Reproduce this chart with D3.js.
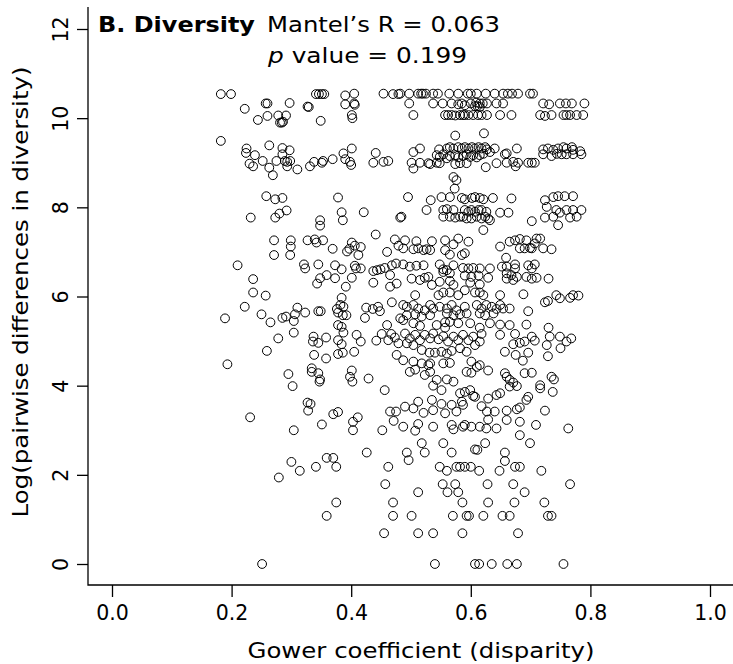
<!DOCTYPE html>
<html><head><meta charset="utf-8">
<script src="https://cdn.jsdelivr.net/npm/d3@7"></script>
<style>body{margin:0;background:#fff} svg{display:block} text{font-family:"DejaVu Sans",Verdana,sans-serif;fill:#000}</style>
</head><body><svg id="c" width="733" height="664"></svg>
<script>
// ---- data: [Gower coefficient, log pairwise difference in diversity] ----
const xTicks = [0, 0.2, 0.4, 0.6, 0.8, 1.0];
const yTicks = [0, 2, 4, 6, 8, 10, 12];

const pointsTopLeft = [
 [.182,10.54],[.199,10.54],[.222,10.21],[.244,9.96],[.260,10.05],[.257,10.33],[.260,10.33],[.278,10.06],[.291,10.06],
 [.281,9.90],[.284,9.90],[.286,9.92],[.297,10.34],[.327,10.26],[.329,10.25],[.341,10.54],[.346,10.54],[.351,10.54],
 [.355,10.54],[.349,9.94],[.390,10.51],[.405,10.55],[.390,10.31],[.405,10.33],[.406,10.30],[.401,10.07],[.402,10.00],
 [.454,10.55],[.470,10.54],[.479,10.54],[.182,9.49]
];
const pointsTopRight = [
 [.482,10.55],[.497,10.55],[.512,10.55],[.517,10.55],[.520,10.55],[.525,10.55],[.537,10.55],[.545,10.55],[.564,10.55],
 [.579,10.55],[.595,10.55],[.600,10.55],[.610,10.55],[.625,10.55],[.640,10.55],[.654,10.55],[.662,10.55],[.669,10.55],
 [.679,10.55],[.699,10.55],[.704,10.55],
 [.497,10.33],[.537,10.33],[.553,10.33],[.568,10.33],[.579,10.31],[.585,10.33],[.600,10.33],[.609,10.35],[.611,10.27],
 [.615,10.33],[.620,10.33],[.627,10.33],[.643,10.33],[.654,10.33],[.721,10.33],[.731,10.31],[.749,10.33],[.759,10.33],
 [.769,10.33],[.790,10.33],[.607,10.27],[.615,10.25],[.590,10.29],
 [.504,10.07],[.557,10.07],[.562,10.07],[.568,10.07],[.574,10.06],[.582,10.07],[.587,10.07],[.590,10.07],[.596,10.07],
 [.604,10.07],[.612,10.07],[.618,10.07],[.627,10.07],[.649,10.07],[.668,10.07],[.716,10.07],[.724,10.05],[.735,10.07],
 [.755,10.07],[.760,10.07],[.766,10.07],[.777,10.07],[.788,10.07],
 [.574,9.61],[.622,9.66]
];
const pointsNineLeft = [
 [.225,9.32],[.224,9.22],[.239,9.17],[.263,9.39],[.285,9.33],[.297,9.28],[.285,9.19],[.401,9.32],[.387,9.21],[.441,9.22],
 [.230,8.98],[.236,8.92],[.252,9.04],[.263,8.89],[.275,9.04],[.289,9.04],[.293,9.02],[.293,8.92],[.298,9.04],[.310,8.85],
 [.269,8.72],[.331,8.92],[.338,9.02],[.351,9.00],[.353,9.04],[.369,9.08],[.390,9.08],[.398,9.02],[.400,8.95],[.437,9.00],
 [.454,9.02],[.462,9.04],
 [.258,8.25],[.273,8.18],[.285,8.21],[.378,8.22]
];
const pointsNineRight = [
 [.515,9.32],[.547,9.30],[.560,9.32],[.565,9.35],[.571,9.32],[.579,9.35],[.585,9.32],[.590,9.35],[.596,9.32],[.602,9.35],
 [.607,9.32],[.613,9.35],[.618,9.32],[.624,9.35],[.627,9.30],[.640,9.32],[.677,9.32],[.721,9.30],[.729,9.32],[.738,9.29],
 [.746,9.32],[.755,9.35],[.760,9.32],[.769,9.35],[.771,9.29],[.783,9.26],
 [.504,9.24],[.543,9.17],[.548,9.13],[.554,9.19],[.560,9.10],[.565,9.15],[.574,9.17],[.579,9.12],[.587,9.15],[.593,9.19],
 [.599,9.13],[.604,9.17],[.610,9.12],[.615,9.17],[.621,9.20],[.632,9.24],[.657,9.19],[.660,9.21],[.721,9.19],[.735,9.15],
 [.744,9.20],[.752,9.19],[.760,9.19],[.771,9.19],[.785,9.19],
 [.501,9.00],[.515,9.00],[.529,8.99],[.532,8.97],[.543,9.00],[.548,8.99],[.574,8.97],[.582,8.99],[.593,8.99],[.643,8.99],
 [.660,9.00],[.671,9.02],[.679,9.00],[.696,9.00],[.702,9.00],[.707,9.00],
 [.504,8.87],[.625,8.90],[.675,8.92],
 [.571,8.68],[.576,8.61],[.573,8.42],
 [.495,8.23],[.533,8.16],[.551,8.23],[.565,8.23],[.585,8.21],[.590,8.18],[.602,8.21],[.607,8.23],[.615,8.21],[.621,8.18],
 [.637,8.21],[.668,8.20],[.724,8.16],[.738,8.23],[.746,8.25],[.757,8.25],[.771,8.25]
];
const pointsMidLeft = [
 [.232,7.77],[.273,7.77],[.280,7.86],[.292,7.93],[.348,7.71],[.348,7.59],[.384,7.89],[.386,7.71],[.421,7.89],[.482,7.77],
 [.271,7.26],[.299,7.26],[.299,7.12],[.271,6.93],[.298,6.93],[.327,7.26],[.339,7.28],[.342,7.21],[.353,7.26],[.369,7.07],
 [.393,7.01],[.401,7.21],[.406,7.14],[.416,7.11],[.397,7.07],[.412,6.93],[.441,7.39],[.473,7.28],[.479,7.14],[.460,7.00],
 [.210,6.70],[.321,6.72],[.323,6.63],[.345,6.72],[.373,6.70],[.384,6.61],[.406,6.69],[.408,6.63],[.416,6.63],[.437,6.57],
 [.443,6.59],[.449,6.61],[.456,6.64],[.468,6.70],[.475,6.74],[.465,6.48],[.465,6.22],[.476,6.29],[.359,6.48],[.348,6.41],
 [.343,6.29],[.373,6.41],[.401,6.42],[.391,6.22],[.437,6.31],[.236,6.39],[.236,6.09],[.257,6.02],[.384,5.97],
 [.222,5.77],[.189,5.51],[.250,5.60],[.265,5.42],[.285,5.52],[.291,5.55],[.306,5.60],[.304,5.45],[.310,5.75],[.323,5.64],
 [.345,5.67],[.349,5.67],[.376,5.72],[.382,5.81],[.387,5.77],[.378,5.64],[.386,5.58],[.392,5.58],[.378,5.36],[.384,5.32],
 [.425,5.75],[.436,5.72],[.445,5.77],[.448,5.67],[.423,5.52],[.468,5.87],[.460,5.36],[.482,5.51]
];
const pointsMidRight = [
 [.526,7.94],[.554,7.94],[.560,7.96],[.571,7.94],[.554,7.79],[.565,7.79],[.574,7.77],[.582,7.79],[.590,7.94],[.596,7.90],
 [.601,7.94],[.607,7.90],[.613,7.94],[.618,7.94],[.626,7.90],[.587,7.79],[.593,7.75],[.601,7.75],[.610,7.79],[.618,7.75],
 [.624,7.79],[.629,7.75],[.649,7.88],[.663,7.88],[.621,7.49],[.632,7.71],[.702,7.69],[.727,8.01],[.724,7.77],[.738,7.79],
 [.743,7.94],[.749,7.88],[.760,7.94],[.766,7.77],[.771,7.94],[.777,7.79],[.785,7.94],[.746,7.60],[.484,7.79],
 [.490,7.26],[.509,7.24],[.535,7.24],[.557,7.26],[.579,7.30],[.596,7.23],[.571,7.17],[.487,7.08],[.504,7.06],[.512,7.08],
 [.521,7.04],[.526,7.06],[.532,7.04],[.557,7.04],[.565,6.94],[.585,6.93],[.590,6.97],[.649,7.12],[.665,7.23],[.674,7.26],
 [.682,7.29],[.693,7.26],[.710,7.30],[.707,7.19],[.716,7.30],[.682,7.08],[.690,7.08],[.699,7.09],[.702,7.08],[.721,7.08],
 [.735,7.06],[.659,6.87],
 [.487,6.72],[.498,6.67],[.509,6.69],[.521,6.70],[.548,6.72],[.554,6.61],[.571,6.70],[.560,6.59],[.554,6.55],[.565,6.52],
 [.587,6.64],[.596,6.63],[.604,6.64],[.615,6.63],[.632,6.63],[.590,6.47],[.601,6.44],[.613,6.47],[.629,6.42],[.652,6.67],
 [.660,6.67],[.674,6.72],[.674,6.63],[.660,6.52],[.668,6.48],[.677,6.44],[.660,6.40],[.671,6.37],[.696,6.70],[.707,6.72],
 [.702,6.63],[.693,6.44],[.702,6.40],[.710,6.42],[.730,6.40],[.501,6.40],[.515,6.37],[.523,6.42],[.529,6.44],[.535,6.26],
 [.548,6.33],[.565,6.35],[.571,6.26],[.599,6.31],[.615,6.27],
 [.507,6.03],[.546,6.03],[.554,6.09],[.565,6.09],[.579,6.03],[.590,6.14],[.607,6.09],[.615,6.09],[.621,6.03],[.649,6.03],
 [.688,6.05],[.724,5.87],[.729,5.90],[.743,6.03],[.749,5.96],[.766,5.97],[.771,6.03],[.780,6.02],
 [.487,5.81],[.493,5.77],[.504,5.81],[.512,5.73],[.523,5.69],[.532,5.81],[.537,5.73],[.548,5.77],[.560,5.73],[.568,5.81],
 [.576,5.69],[.590,5.77],[.610,5.81],[.618,5.73],[.626,5.81],[.635,5.77],[.643,5.72],[.649,5.81],[.654,5.73],[.665,5.73],
 [.696,5.67],[.493,5.58],[.507,5.60],[.518,5.55],[.532,5.58],[.560,5.62],[.571,5.58],[.582,5.60],[.593,5.62],[.615,5.62],
 [.624,5.58],[.638,5.62],
 [.487,5.47],[.504,5.40],[.543,5.36],[.557,5.42],[.565,5.43],[.579,5.40],[.599,5.40],[.632,5.40],[.649,5.37],[.665,5.36],
 [.693,5.37],[.730,5.30],[.615,5.30],[.557,5.30],[.515,5.34]
];
const pointsLowLeft = [
 [.278,5.06],[.304,5.19],[.337,5.10],[.336,4.99],[.345,4.96],[.358,5.08],[.378,5.02],[.384,4.93],[.387,5.19],[.409,5.14],
 [.416,4.99],[.442,5.01],[.451,5.16],[.462,5.02],[.467,5.16],[.473,5.08],[.479,4.95],[.259,4.78],[.193,4.48],[.338,4.69],
 [.358,4.61],[.378,4.71],[.386,4.74],[.405,4.76],[.476,4.69],[.295,4.26],[.334,4.39],[.334,4.31],[.345,4.28],[.348,4.14],
 [.347,4.09],[.401,4.34],[.398,4.20],[.402,4.09],[.429,4.16],[.456,3.90],[.302,3.99],[.327,3.62],[.332,3.59],[.328,3.44],
 [.231,3.29],[.370,3.36],[.378,3.41],[.403,3.19],[.411,3.29],[.403,3.00],[.351,3.13],[.304,3.00],[.452,3.00],[.465,3.42],
 [.475,3.42],[.471,3.21],[.426,2.50]
];
const pointsLowRight = [
 [.490,5.17],[.498,5.06],[.507,5.14],[.515,5.02],[.523,5.14],[.532,5.06],[.537,5.17],[.546,5.04],[.554,5.11],[.562,4.99],
 [.571,5.10],[.579,5.02],[.587,5.14],[.596,5.02],[.604,5.10],[.615,4.99],[.618,5.16],[.493,4.95],[.504,4.91],[.518,4.80],
 [.531,4.74],[.540,4.74],[.551,4.76],[.560,4.72],[.568,4.78],[.582,4.84],[.593,4.76],[.607,4.91],[.649,5.14],[.674,5.16],
 [.671,4.93],[.682,4.96],[.690,4.99],[.702,5.10],[.707,5.01],[.727,4.91],[.732,5.10],[.749,5.10],[.760,4.99],[.768,5.06],
 [.750,4.84],[.657,4.76],[.675,4.69],[.696,4.74],[.687,4.56],[.729,4.66],[.487,4.57],[.504,4.54],[.518,4.50],[.529,4.46],
 [.532,4.50],[.554,4.50],[.565,4.51],[.601,4.54],[.615,4.46],[.498,4.31],[.507,4.36],[.523,4.24],[.532,4.31],[.543,4.13],
 [.560,4.14],[.571,4.09],[.537,4.00],[.551,3.90],[.593,4.31],[.601,4.29],[.610,4.42],[.629,4.34],[.657,4.28],[.660,4.20],
 [.665,4.13],[.671,4.07],[.665,3.98],[.677,3.99],[.690,4.28],[.702,4.29],[.716,4.01],[.716,3.94],[.735,4.20],[.739,4.14],
 [.737,3.86],[.582,3.83],[.590,3.86],[.599,3.90],[.607,3.75],[.629,3.71],[.643,3.79],[.649,3.83],[.693,3.68],[.696,3.75],
 [.682,3.51],[.677,3.47],[.660,3.44],[.724,3.44],[.490,3.53],[.504,3.49],[.512,3.64],[.521,3.39],[.535,3.68],[.537,3.45],
 [.551,3.59],[.557,3.38],[.568,3.57],[.576,3.42],[.585,3.64],[.587,3.57],[.604,3.77],[.618,3.54],[.627,3.42],[.640,3.42],
 [.629,3.24],[.660,3.23],[.682,3.19],[.487,3.08],[.507,2.99],[.512,3.14],[.537,3.08],[.568,3.12],[.571,3.02],[.587,3.08],
 [.590,3.12],[.601,3.08],[.615,3.08],[.626,3.04],[.643,3.04],[.709,3.12],[.763,3.04],[.682,2.89],[.699,2.71],[.518,2.71],
 [.554,2.71],[.624,2.71],[.568,2.50],[.607,2.57],[.611,2.56],[.657,2.50],[.523,2.50],[.493,2.50]
];
const pointsBottom = [
 [.300,2.29],[.314,2.09],[.341,2.18],[.359,2.38],[.370,2.38],[.375,2.18],[.279,1.94],[.462,2.18],[.457,1.79],[.375,1.38],
 [.359,1.08],[.470,1.38],[.470,1.08],[.455,0.69],[.251,0.00],
 [.496,2.33],[.548,2.18],[.560,2.09],[.576,2.18],[.582,2.18],[.590,2.18],[.600,2.18],[.614,2.09],[.648,2.09],[.657,2.31],
 [.674,2.18],[.682,2.18],[.718,2.09],[.512,1.61],[.553,1.79],[.561,1.61],[.574,1.79],[.579,1.61],[.628,1.79],[.671,1.79],
 [.690,1.61],[.766,1.79],[.586,1.38],[.629,1.38],[.673,1.38],[.723,1.38],[.501,1.08],[.570,1.08],[.593,1.08],[.597,1.08],
 [.621,1.08],[.653,1.08],[.665,1.08],[.729,1.08],[.735,1.08],[.512,0.69],[.537,0.69],[.586,0.69],[.679,0.69],
 [.540,0.00],[.607,0.00],[.614,0.00],[.635,0.00],[.661,0.00],[.677,0.00],[.755,0.00]
];

const points = [].concat(pointsTopLeft, pointsTopRight, pointsNineLeft, pointsNineRight,
  pointsMidLeft, pointsMidRight, pointsLowLeft, pointsLowRight, pointsBottom);

// ---- chart ----
const svg = d3.select("#c");
const x = d3.scaleLinear().domain([0, 1]).range([112, 710]);
const y = d3.scaleLinear().domain([0, 12]).range([564, 29]);
const frameLeft = 88, frameBottom = 585, frameTop = 7, frameRight = 733;

svg.append("g").selectAll("circle").data(points).join("circle")
  .attr("cx", d => x(d[0])).attr("cy", d => y(d[1])).attr("r", 4.4)
  .attr("fill", "none").attr("stroke", "#000").attr("stroke-width", 1);

// L-shaped frame
svg.append("path")
  .attr("d", `M${frameLeft},${frameTop}V${frameBottom}H${frameRight}`)
  .attr("fill", "none").attr("stroke", "#000").attr("stroke-width", 1.3);

const gx = svg.append("g").attr("transform", `translate(0,${frameBottom})`)
  .call(d3.axisBottom(x).tickValues(xTicks).tickFormat(d3.format(".1f")).tickSize(12).tickPadding(8));
gx.select(".domain").remove();
gx.selectAll("line").attr("stroke", "#000").attr("stroke-width", 1.3);
gx.selectAll("text").attr("font-size", 20.5).attr("font-family", "DejaVu Sans");

const gy = svg.append("g").attr("transform", `translate(${frameLeft},0)`)
  .call(d3.axisLeft(y).tickValues(yTicks).tickSize(11));
gy.select(".domain").remove();
gy.selectAll("line").attr("stroke", "#000").attr("stroke-width", 1.3);
gy.selectAll("text").attr("x", null).attr("dy", null)
  .attr("text-anchor", "middle").attr("font-size", 20.5).attr("font-family", "DejaVu Sans")
  .attr("transform", "translate(-20,0) rotate(-90)");

const labelSize = 22;
svg.append("text").attr("x", 421).attr("y", 658).attr("text-anchor", "middle")
  .attr("font-size", labelSize).attr("textLength", 347).attr("lengthAdjust", "spacingAndGlyphs")
  .text("Gower coefficient (disparity)");
svg.append("text").attr("transform", "translate(28,292) rotate(-90)").attr("text-anchor", "middle")
  .attr("font-size", labelSize).attr("textLength", 451).attr("lengthAdjust", "spacingAndGlyphs")
  .text("Log(pairwise differences in diversity)");

svg.append("text").attr("x", 98).attr("y", 32).attr("font-size", labelSize)
  .attr("font-weight", "bold").attr("textLength", 157).attr("lengthAdjust", "spacingAndGlyphs")
  .text("B. Diversity");
svg.append("text").attr("x", 267).attr("y", 32).attr("font-size", labelSize)
  .attr("textLength", 233).attr("lengthAdjust", "spacingAndGlyphs")
  .text("Mantel\u2019s R = 0.063");
const t2 = svg.append("text").attr("x", 268).attr("y", 63).attr("font-size", labelSize)
  .attr("textLength", 199).attr("lengthAdjust", "spacingAndGlyphs");
t2.append("tspan").attr("font-style", "italic").text("p");
t2.append("tspan").text(" value = 0.199");
</script></body></html>
